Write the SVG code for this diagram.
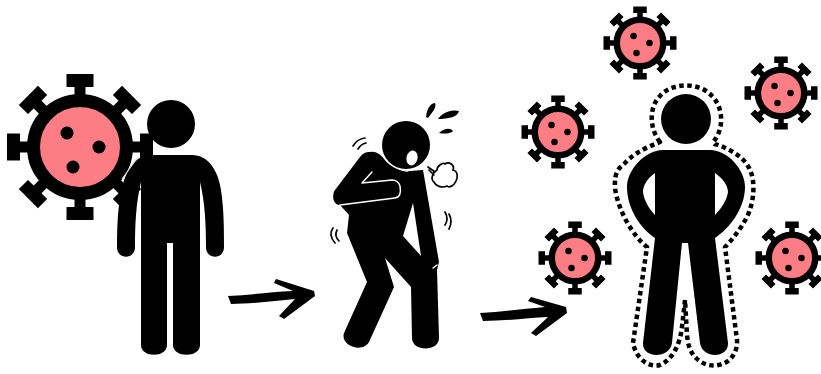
<svg xmlns="http://www.w3.org/2000/svg" xmlns:xlink="http://www.w3.org/1999/xlink" width="821" height="374" viewBox="0 0 821 374">
<style>
.k{fill:#000}
.d{fill:none;stroke:#000;stroke-width:4.500;stroke-dasharray:4.500 3.500;stroke-linejoin:round}
.w{fill:none;stroke:#fff;stroke-linecap:round;stroke-linejoin:round}
.m{fill:none;stroke:#000;stroke-width:1.700;stroke-linecap:round}
</style>
<defs>
<g id="spike"><path class="k" d="M-5.500-50V-60H-13.500V-73H13.500V-60H5.500V-50Z"/></g>
<g id="virus">
<use xlink:href="#spike"/><use xlink:href="#spike" transform="rotate(45)"/><use xlink:href="#spike" transform="rotate(90)"/><use xlink:href="#spike" transform="rotate(135)"/><use xlink:href="#spike" transform="rotate(180)"/><use xlink:href="#spike" transform="rotate(225)"/><use xlink:href="#spike" transform="rotate(270)"/><use xlink:href="#spike" transform="rotate(315)"/>
<circle r="46.500" fill="#fd7d85" stroke="#000" stroke-width="13"/>
<circle class="k" cx="-13" cy="-14" r="6.500"/><circle class="k" cx="19" cy="0" r="6.500"/><circle class="k" cx="-7" cy="20" r="6.500"/>
</g>
</defs>
<rect width="821" height="374" fill="#fff"/>
<g id="virus-large"><use xlink:href="#virus" transform="translate(80 147)"/></g>
<g id="person-healthy">
<circle class="k" cx="171" cy="124" r="24"/>
<path class="k" d="M150 155H192C208 155 218 170 221 190C224 210 224 230 224 247C224 260 206 260 206 247C206 225 205 202 200 182V345C200 358 173 358 173 345V243H167V345C167 358 141 358 141 345V182C136 202 135 225 135 247C135 260 117 260 117 247C117 225 118 205 122 188C126 170 136 155 150 155Z"/>
<path d="M122 179L138 157" stroke="#ddd" stroke-width="1.200" fill="none"/>
</g>
<g id="connectors">
<path class="k" d="M228 296C250 295 270 292 293 291L274 283L276 279L314 291L315 296L284 319L279 316L295 299C275 301 250 304 231 304Z"/>
<path class="k" d="M480 313C502 312 522 309 545 307L528 301L531 297L566 307L567 313L536 336L531 333L548 317C528 318 505 321 483 321Z"/>
</g>
<g id="person-coughing">
<path class="k" d="M370 152C376 151 381 155 384 159C390 167 398 170 410 171L423 170L439 262L437 270L439 338C439 352 412 352 412 338L411 287L385 258L394 287L369 342C362 354 340 345 344 333L367 282L347 233L349 215L340 205C332 205 332 194 335 190L360 157C363 153 366 152 370 152Z"/>
<path class="w" d="M383 154Q392 170 408 171" stroke-width="1.500"/>
<circle class="k" cx="406" cy="145" r="24"/>
<ellipse cx="412" cy="158" rx="5.500" ry="7.500" fill="#fff" transform="rotate(15 412 158)"/>
<path d="M413 203L403 236L421 256Z" fill="#fff"/>
<path class="w" stroke-width="1.500" d="M340 205L395 198Q402 197 400 186Q398 180 392 180L362 183L372 172"/>
<path class="w" stroke-width="1.500" d="M437 265L433 268"/>
<path class="k" d="M426 117C427 108 431 103 435 103C437 107 432 113 428 118Z"/>
<path class="k" d="M438 119C442 113 450 109 459 111C458 117 448 119 438 119Z"/>
<path class="k" d="M439 133C443 129 450 127 453 131C450 134 444 134 439 133Z"/>
<path fill="#fff" stroke="#000" stroke-width="1.700" d="M437 170C437 166 443 162 445 164C449 161 455 165 453 170C458 171 458 178 456 181C454 186 449 188 447 186C443 188 436 187 434 182C430 179 433 172 437 170Z"/>
<path class="m" d="M428 167L435 172M429 170L434 175"/>
<path class="m" d="M353 146Q357 139 365 138M358 149Q361 144 366 143"/>
<path class="m" d="M333 228Q328 235 335 243M337 230Q334 236 339 241"/>
<path class="m" d="M445 212Q449 219 445 225M449 214Q453 221 449 229"/>
</g>
<g id="person-protected">
<circle class="k" cx="686" cy="119" r="25"/>
<path class="k" d="M663 150H710C728 150 745 170 745 187C745 208 730 228 715 238L728 343C729 359 702 359 700 343L688 243H682L672 343C670 359 642 359 643 343L655 238C640 228 627 208 627 187C627 170 645 150 663 150ZM655 173C648 178 643 185 643 192C644 200 649 209 655 215ZM715 173V215C721 209 727 200 728 192C728 185 722 178 715 173Z" fill-rule="evenodd"/>
<path class="d" d="M660 142C650 130 648 108 660 96C672 82 700 82 712 96C724 108 724 130 713 142C716 146 714 143 718 145C732 150 745 158 750 170C755 180 755 200 747 217C740 230 732 240 725 247L737 340C738 352 730 362 722 364C712 368 702 364 696 358C690 352 688 345 687 335L685 300L682 327C680 345 672 360 660 365C648 368 636 358 633 343L647 247C632 235 618 210 615 188C614 170 620 168 625 163C635 152 648 147 660 142Z"/>
</g>
<g id="virus-1"><use xlink:href="#virus" transform="translate(640 43) scale(.5)"/></g>
<g id="virus-2"><use xlink:href="#virus" transform="translate(781 93) scale(.5)"/></g>
<g id="virus-3"><use xlink:href="#virus" transform="translate(558 132) scale(.5)"/></g>
<g id="virus-4"><use xlink:href="#virus" transform="translate(575 258) scale(.5)"/></g>
<g id="virus-5"><use xlink:href="#virus" transform="translate(792 258) scale(.5)"/></g>
</svg>
